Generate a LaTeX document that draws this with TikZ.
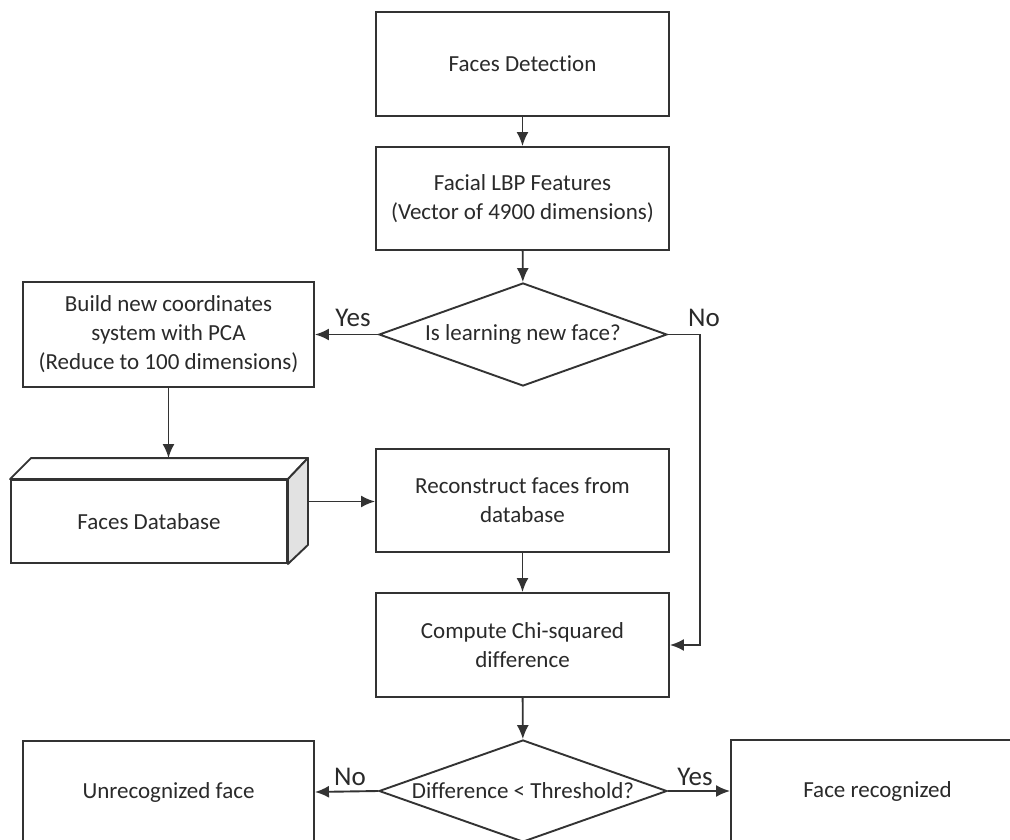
\documentclass[tikz,border=0pt]{standalone}
\usepackage{fontspec}
\setmainfont[RawFeature=-liga]{Carlito}
\usetikzlibrary{shapes.geometric,arrows.meta,calc}
\definecolor{ln}{HTML}{333333}
\definecolor{tx}{HTML}{2A2A2A}
\definecolor{side}{HTML}{E2E2E2}
\begin{document}
\begin{tikzpicture}[x=1pt,y=-1pt,
  every node/.style={font=\fontsize{23}{29}\selectfont, text=tx},
  box/.style={draw=ln, line width=1.9pt, fill=white, rectangle, align=center, inner sep=0pt},
  dec/.style={draw=ln, line width=1.9pt, fill=white, diamond, align=center, inner sep=0pt, shape aspect=2.8, minimum width=288pt},
  arr/.style={draw=ln, line width=1.9pt, -{Latex[length=14pt,width=12pt]}},
  lbl/.style={font=\fontsize{27}{30}\selectfont, text=tx}]
\useasboundingbox (0,0) rectangle (1010,840);
\clip (0,0) rectangle (1010,840);
\fill[white] (0,0) rectangle (1010,840);

\node[box, minimum width=293pt, minimum height=104pt] (det) at (522.5,64) {Faces Detection};
\node[box, minimum width=293pt, minimum height=103pt] (lbp) at (522.5,198.5) {Facial LBP Features\\(Vector of 4900 dimensions)};
\node[dec, minimum height=103pt] (q1) at (523,334.5) {Is learning new face?};
\node[box, minimum width=291pt, minimum height=105pt] (build) at (168.5,334.5) {Build new coordinates\\system with PCA\\(Reduce to 100 dimensions)};
\node[box, minimum width=276pt, minimum height=83pt] (db) at (149,521.5) {Faces Database};
\node[box, minimum width=293pt, minimum height=103pt] (rec) at (522.5,500.5) {Reconstruct faces from\\database};
\node[box, minimum width=293pt, minimum height=104pt] (chi) at (522.5,645) {Compute Chi-squared\\difference};
\node[dec, minimum height=102pt] (q2) at (523,791) {Difference < Threshold?};
\node[box, minimum width=291pt, minimum height=102pt] (unrec) at (168.5,792) {Unrecognized face};
\node[box, minimum width=293pt, minimum height=102pt] (recog) at (877.5,791) {Face recognized};

% 3D database faces
\draw[ln, line width=1.9pt, fill=white, line join=round]
  (db.north west) -- ++(21,-21) -- ($(db.north east)+(20,-21)$) -- (db.north east) -- cycle;
\draw[ln, line width=1.9pt, fill=side, line join=round]
  (db.north east) -- ++(20,-21) -- ($(db.south east)+(20,-19)$) -- (db.south east) -- cycle;
\coordinate (dbtop) at ($(db.north)+(0,-21)$);
\coordinate (dbside) at ($(db.east)+(20,-20)$);
\coordinate (nocorner) at ($(q1.east)+(32,0)$);

% connectors
\draw[arr] (det) -- (lbp);
\draw[arr] (lbp) -- (q1);
\draw[arr] (q1) -- (build);
\draw[arr] (build.south) -- (build.south |- dbtop);
\draw[arr] (dbside) -- (dbside -| rec.west);
\draw[arr] (rec) -- (chi);
\draw[arr] (q1.east) -- (nocorner) -- (nocorner |- chi.east) -- (chi.east);
\draw[arr] (chi) -- (q2);
\draw[arr] (q2.west) -- (unrec.east);
\draw[arr] (q2.east) -- (recog.west);

% labels
\node[lbl] (y1) at (353,318) {Yes};
\node[lbl] (n1) at (704,318) {No};
\node[lbl] (n2) at (350,777) {No};
\node[lbl] (y2) at (695,777) {Yes};
\end{tikzpicture}
\end{document}
